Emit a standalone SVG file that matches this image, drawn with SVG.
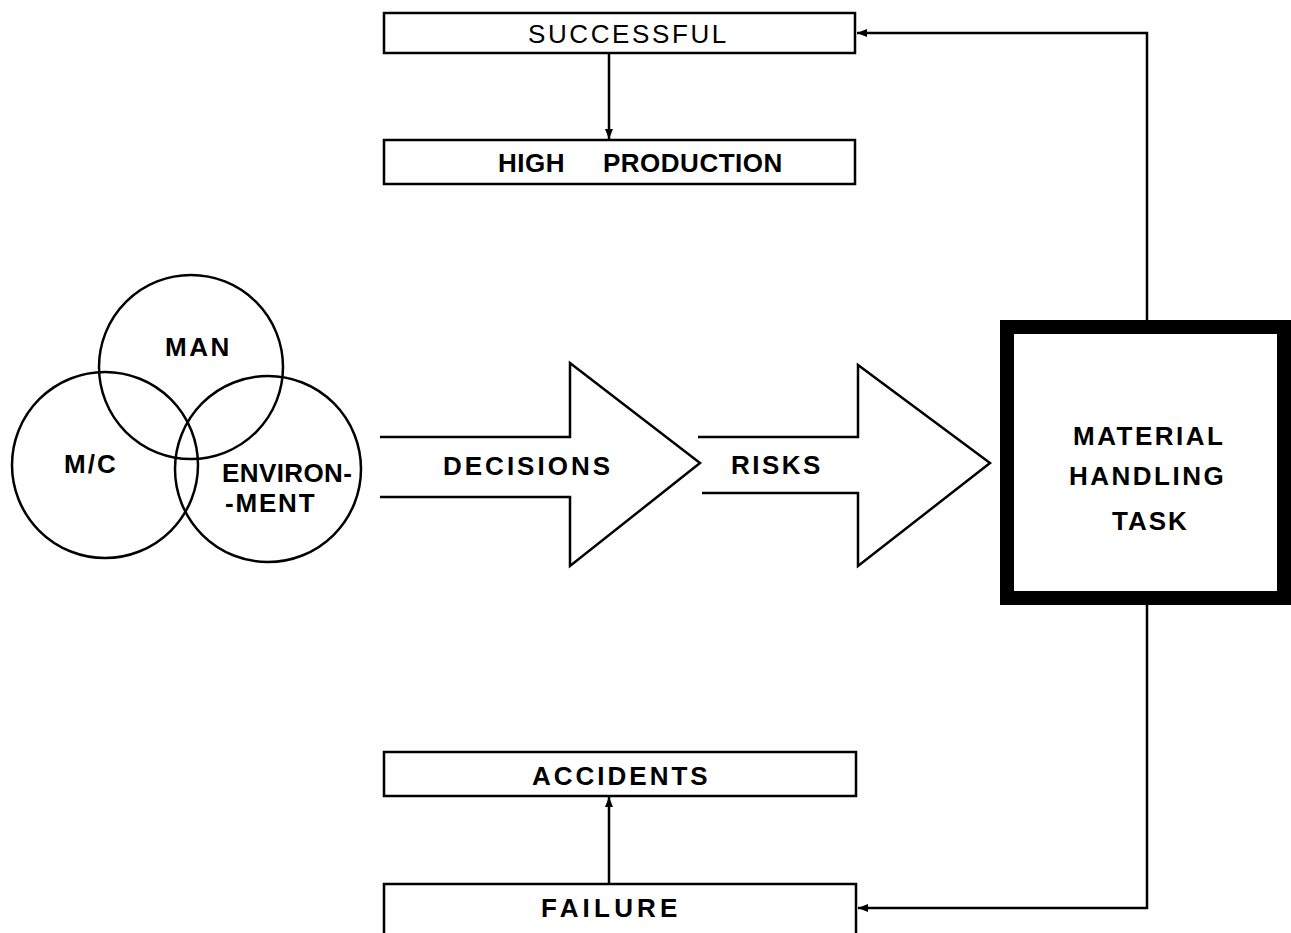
<svg xmlns="http://www.w3.org/2000/svg" width="1291" height="933" viewBox="0 0 1291 933">
<style>
.box{fill:#fff;stroke:#000;stroke-width:2.5}
.ln{fill:none;stroke:#000;stroke-width:2.5}
.t{font-family:"Liberation Sans",Arial,sans-serif;font-size:26px;fill:#000}
.b{font-weight:bold}
</style>
<defs>
<marker id="ahv" viewBox="0 0 10 10" refX="10" refY="5" markerWidth="16" markerHeight="10" orient="auto" markerUnits="userSpaceOnUse">
<path d="M0,1 L10,5 L0,9 z" fill="#000"/>
</marker>
</defs>
<rect width="1291" height="933" fill="#fff"/>
<g id="connectors">
<path class="ln" d="M1147,320 V33 H857" marker-end="url(#ahv)"/>
<path class="ln" d="M1147,605 V908 H858" marker-end="url(#ahv)"/>
<path class="ln" d="M609,53 V139" marker-end="url(#ahv)"/>
<path class="ln" d="M609,884 V797" marker-end="url(#ahv)"/>
</g>
<g id="successful">
<rect class="box" x="384" y="13" width="471" height="40"/>
<text class="t" x="528" y="43" letter-spacing="2.6">SUCCESSFUL</text>
</g>
<g id="high-production">
<rect class="box" x="384" y="140" width="471" height="44"/>
<text class="t b" y="172" letter-spacing="0.5"><tspan x="498">HIGH</tspan><tspan x="603">PRODUCTION</tspan></text>
</g>
<g id="accidents">
<rect class="box" x="384" y="752" width="472" height="44"/>
<text class="t b" x="532" y="785" letter-spacing="3">ACCIDENTS</text>
</g>
<g id="failure">
<rect class="box" x="384" y="884" width="472" height="52"/>
<text class="t b" x="541" y="917" letter-spacing="4.2">FAILURE</text>
</g>
<g id="venn">
<circle class="ln" cx="191" cy="367" r="92"/>
<circle class="ln" cx="105" cy="465" r="93"/>
<circle class="ln" cx="268" cy="469" r="93"/>
<text class="t b" x="165" y="356" letter-spacing="2.5">MAN</text>
<text class="t b" x="64" y="473" letter-spacing="2">M/C</text>
<text class="t b" x="222" y="482" letter-spacing="0.4">ENVIRON-</text>
<text class="t b" x="225" y="512" letter-spacing="1.8">-MENT</text>
</g>
<g id="decisions">
<path class="ln" d="M380,437 H570 V363 L700,463 L570,566 V497 H380"/>
<text class="t b" x="443" y="475" letter-spacing="3">DECISIONS</text>
</g>
<g id="risks">
<path class="ln" d="M698,437 H858 V365 L990,463 L858,566 V493 H702"/>
<text class="t b" x="731" y="474" letter-spacing="2.5">RISKS</text>
</g>
<g id="material-handling-task">
<rect x="1007" y="327" width="277" height="271" fill="#fff" stroke="#000" stroke-width="14"/>
<text class="t b" x="1073" y="445" letter-spacing="2.5">MATERIAL</text>
<text class="t b" x="1069" y="485" letter-spacing="2.5">HANDLING</text>
<text class="t b" x="1112" y="530" letter-spacing="2">TASK</text>
</g>
</svg>
